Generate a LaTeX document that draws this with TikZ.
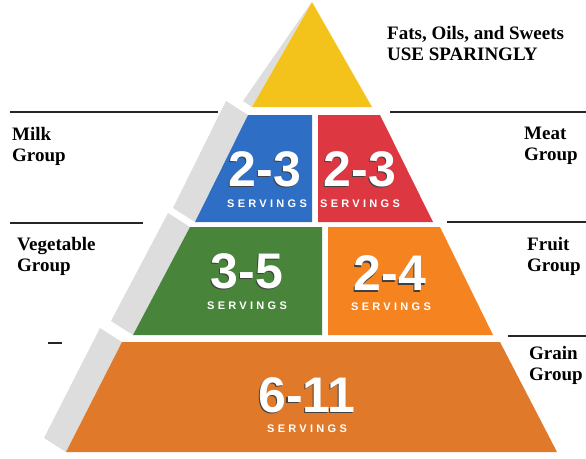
\documentclass[tikz,border=0pt]{standalone}
\usepackage{fontspec}
\setmainfont{Liberation Serif}
\newfontfamily\numfont{Liberation Sans}
\newfontfamily\servfont[LetterSpace=30]{Liberation Sans}
\definecolor{fatsyellow}{RGB}{243,195,28}
\definecolor{milkblue}{RGB}{46,110,196}
\definecolor{meatred}{RGB}{221,56,66}
\definecolor{veggreen}{RGB}{72,133,58}
\definecolor{fruitorange}{RGB}{245,131,32}
\definecolor{grainorange}{RGB}{224,122,42}
\definecolor{sidegrey}{RGB}{221,221,221}
\tikzset{
  grouplabel/.style={anchor=north west,inner sep=0pt,align=left,
    font=\fontsize{19}{21}\selectfont\bfseries},
  num/.style={inner sep=0pt,text=white,font=\numfont\fontsize{50}{50}\selectfont\bfseries},
  serv/.style={inner sep=0pt,text=white,font=\servfont\fontsize{11}{11}\selectfont\bfseries},
  rule/.style={line width=1.6pt,black!85}
}
% white number with its dark shadow
\newcommand{\shadenum}[1]{\rlap{\hspace{-1.3pt}\raisebox{-1.3pt}{\color{black!75}#1}}#1}
\begin{document}
\begin{tikzpicture}[x=1pt,y=-1pt,line join=round]
\useasboundingbox (0,0) rectangle (586,458);
% side of the pyramid
\fill[sidegrey] (311,3)--(252,107)--(243,101)--cycle;
\foreach \tx/\ty/\bx/\by in {248/115/195/222,190/227/133/335,122/342/66/452}
  \fill[sidegrey] (\tx,\ty)--(\bx,\by)--(\bx-22,\by-14)--(\tx-22,\ty-14)--cycle;
% tiers
\fill[fatsyellow] (312,2)--(252,107)--(372,107)--cycle;
\fill[milkblue] (248,115)--(312,115)--(312,222)--(195,222)--cycle;
\fill[meatred] (318,115)--(380,115)--(433,222)--(318,222)--cycle;
\fill[veggreen] (190,227)--(322,227)--(322,335)--(133,335)--cycle;
\fill[fruitorange] (328,227)--(440,227)--(493,335)--(328,335)--cycle;
\fill[grainorange] (122,342)--(500,342)--(557,452)--(66,452)--cycle;
% rules
\draw[rule] (10,112)--(218,112);
\draw[rule] (390,112)--(586,112);
\draw[rule] (10,223)--(143,223);
\draw[rule] (447,222)--(586,222);
\draw[rule] (48,343)--(62,343);
\draw[rule] (508,336)--(586,336);
% servings
\node[num] (milknum) at (265,170) {\shadenum{2-3}};
\node[serv] (milkserv) at (267,204) {SERVINGS};
\node[num] (meatnum) at (360,170) {\shadenum{2-3}};
\node[serv] (meatserv) at (360,204) {SERVINGS};
\node[num] (vegnum) at (247,272) {\shadenum{3-5}};
\node[serv] (vegserv) at (247,306) {SERVINGS};
\node[num] (fruitnum) at (390,274) {\shadenum{2-4}};
\node[serv] (fruitserv) at (391,307) {SERVINGS};
\node[num] (grainnum) at (307,396) {\shadenum{6-11}};
\node[serv] (grainserv) at (307,429) {SERVINGS};
% group names
\node[grouplabel] (fats) at (387,26) {Fats, Oils, and Sweets\\USE SPARINGLY};
\node[grouplabel] (milk) at (12,127) {Milk\\Group};
\node[grouplabel] (meat) at (524,127) {Meat\\Group};
\node[grouplabel] (veg) at (17,237) {Vegetable\\Group};
\node[grouplabel] (fruit) at (527,237) {Fruit\\Group};
\node[grouplabel] (grain) at (529,346) {Grain\\Group};
\end{tikzpicture}
\end{document}
